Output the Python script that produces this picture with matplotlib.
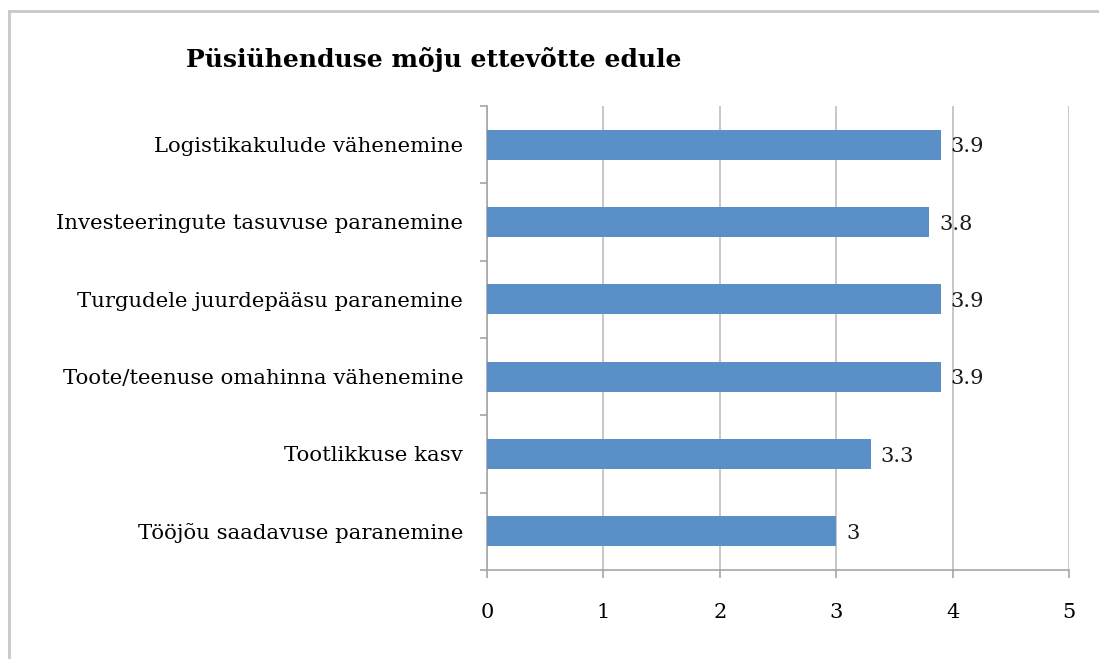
import matplotlib
matplotlib.use('Agg')
import matplotlib.pyplot as plt
from matplotlib.lines import Line2D
import numpy as np

plt.rcParams['font.family'] = ['DejaVu Serif']

categories = [
    'Logistikakulude vähenemine',
    'Investeeringute tasuvuse paranemine',
    'Turgudele juurdepääsu paranemine',
    'Toote/teenuse omahinna vähenemine',
    'Tootlikkuse kasv',
    'Tööjõu saadavuse paranemine',
]
values = [3.9, 3.8, 3.9, 3.9, 3.3, 3.0]
value_labels = ['3.9', '3.8', '3.9', '3.9', '3.3', '3']
xticks = [0, 1, 2, 3, 4, 5]

BAR = '#5B8FC8'
GRID = '#BEBEBE'
AXIS = '#A6A6A6'

fig = plt.figure(figsize=(10.99, 6.59), dpi=100)
ax = fig.add_axes([0.4431, 0.1351, 0.5296, 0.7041])

y = np.arange(len(categories))[::-1]
ax.barh(y, values, height=0.39, color=BAR, zorder=3)
for yi, v, lab in zip(y, values, value_labels):
    ax.annotate(lab, (v, yi), xytext=(7, -1.5), textcoords='offset points',
                va='center', ha='left', fontsize=15, color='#1a1a1a')

ax.set_xlim(0, 5)
ax.set_ylim(-0.5, len(categories) - 0.5)
ax.set_xticks(xticks)
ax.set_xticklabels([str(t) for t in xticks], fontsize=15)
ax.set_yticks(y)
ax.set_yticklabels(categories, fontsize=15.3)
ax.set_yticks(np.arange(-0.5, len(categories)), minor=True)

ax.xaxis.grid(True, color=GRID, lw=1.2, zorder=0)
ax.tick_params(axis='x', length=6, width=1.2, color=AXIS, pad=18)
ax.tick_params(axis='y', which='major', length=0, pad=17)
ax.tick_params(axis='y', which='minor', length=5, width=1.2, color=AXIS)

for s in ('top', 'right'):
    ax.spines[s].set_visible(False)
for s in ('left', 'bottom'):
    ax.spines[s].set_color(AXIS)
    ax.spines[s].set_linewidth(1.2)

fig.text(0.169, 0.909, 'Püsiühenduse mõju ettevõtte edule', fontsize=18,
         fontweight='bold', va='center', ha='left')

# chart frame (only top and left edges visible in the crop)
fig.add_artist(Line2D([0.008, 1.0], [0.983, 0.983], color='#C8C8C8', lw=2,
                      transform=fig.transFigure))
fig.add_artist(Line2D([0.008, 0.008], [0.0, 0.983], color='#C8C8C8', lw=2,
                      transform=fig.transFigure))

fig.savefig('out.png', dpi=100)
